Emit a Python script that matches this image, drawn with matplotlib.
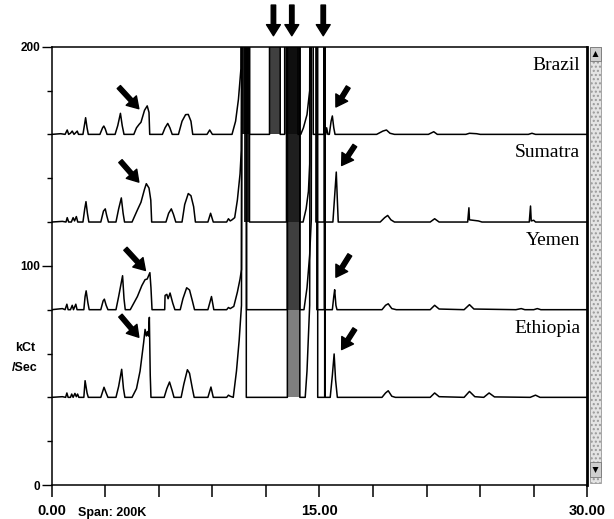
import matplotlib
matplotlib.use("Agg")
import matplotlib.pyplot as plt
from matplotlib.patches import Rectangle, Polygon
import numpy as np

plt.rcParams['font.family'] = ['Liberation Sans', 'DejaVu Sans']

OFF = 320  # detector saturated (off scale)

samples = ['Brazil', 'Sumatra', 'Yemen', 'Ethiopia']
offsets = [160, 120, 80, 40]

brazil_t = [0.0, 0.5, 0.75, 0.87, 0.95, 1.05, 1.15, 1.25, 1.35, 1.43, 1.5, 1.75, 1.85, 1.9, 1.98, 2.05,
            2.7, 2.85, 2.92, 3.0, 3.1, 3.55, 3.7, 3.85, 3.95, 4.05, 4.6, 4.75, 4.9, 5.0, 5.2, 5.35, 5.45, 5.49,
            6.2, 6.35, 6.5, 6.62, 6.75, 7.1, 7.3, 7.5, 7.65, 7.8, 7.9, 8.7, 8.85, 9.0, 10.1, 10.3, 10.46, 10.6,
            10.63, 11.08, 11.08, 12.2, 12.2, 12.8, 12.8, 13.05, 13.05, 13.8, 13.8, 13.95, 14.1, 14.3, 14.45,
            14.54, 14.65, 14.65, 15.25, 15.26, 15.28, 15.35, 15.4, 15.47, 15.55, 15.65, 15.72, 15.8, 15.87,
            18.2, 18.55, 18.75, 18.95, 19.2, 21.1, 21.4, 21.6, 23.2, 23.4, 23.8, 24.0, 26.7, 26.9, 27.1, 30.0]
brazil_v = [0, 0.3, 0, 2.0, 0, 0.5, 1.5, 0, 0.8, 1.5, 0, 0, 5, 7.6, 3, 0,
            0, 3, 3.8, 2.5, 0, 0, 4, 9.6, 4, 0, 0, 3, 4.6, 5.5, 11, 13, 10, 0,
            0, 3, 5, 3, 0, 0, 6, 9, 9.1, 6, 0, 0, 2, 0, 0, 6, 16, 30,
            OFF, OFF, 0, 0, OFF, OFF, 0, 0, OFF, OFF, 0, 0, 3, 9, 20,
            OFF, OFF, 0, 0, OFF, 0, 0, 3, 0, 0, 6, 8.4, 3, 0,
            0, 1.5, 2, 0.5, 0, 0, 1.2, 0, 0, 0.5, 0.3, 0, 0, 0.5, 0, 0]

sumatra_t = [0.0, 0.6, 0.8, 0.87, 0.95, 1.1, 1.2, 1.28, 1.38, 1.46, 1.75, 1.85, 1.92, 2.0, 2.08,
             2.75, 2.9, 3.0, 3.08, 3.18, 3.6, 3.75, 3.9, 4.0, 4.08, 4.5, 4.8, 5.0, 5.2, 5.3, 5.45, 5.55, 5.6,
             6.4, 6.55, 6.7, 6.82, 6.95, 7.3, 7.45, 7.65, 7.8, 7.95, 8.05, 8.75, 8.9, 9.05, 9.8, 9.9, 10.0,
             10.1, 10.25, 10.4, 10.55, 10.62, 10.7, 11.08, 11.08, 13.15, 13.15, 13.9, 13.9, 14.08, 14.25,
             14.38, 14.45, 14.52, 14.8, 14.8, 15.27, 15.28, 15.3, 15.75, 15.85, 15.94, 16.0, 16.05,
             18.4, 18.65, 18.82, 19.0, 19.2, 21.2, 21.45, 21.7, 23.3, 23.37, 23.4, 23.6, 23.9, 24.1,
             26.75, 26.82, 26.86, 27.0, 27.1, 30.0]
sumatra_v = [0, 0.3, 0, 2, 0, 0, 2, 0.5, 2.5, 0, 0, 6, 9.3, 4, 0,
             0, 5, 6, 3, 0, 0, 6, 11, 4, 0, 0, 5.5, 9, 15, 17.5, 15.5, 10, 0,
             0, 4, 6, 3.5, 0, 0, 8, 13, 12, 7, 0, 0, 4, 0, 0, 1.5, 0.5,
             1, 2, 10, 22, 32.7, OFF, OFF, 0, 0, OFF, OFF, 0, 0, 6,
             14, 26.5, OFF, OFF, 0, 0, OFF, 0, 0, 12, 22.8, 10, 0,
             0, 2, 3, 1, 0, 0, 1.5, 0, 0, 6.5, 1, 0.8, 0.5, 0,
             0, 7.3, 0.5, 0.8, 0, 0]

yemen_t = [0.0, 0.6, 0.75, 0.85, 0.92, 1.05, 1.15, 1.22, 1.35, 1.42, 1.8, 1.87, 1.93, 2.03, 2.1,
           2.75, 2.88, 2.95, 3.05, 3.15, 3.6, 3.75, 3.97, 4.05, 4.12, 4.4, 4.8, 5.05, 5.23, 5.35, 5.5, 5.56, 5.62,
           6.33, 6.35, 6.45, 6.52, 6.63, 6.78, 6.9, 7.2, 7.35, 7.56, 7.72, 7.88, 8.0, 8.75, 8.95, 9.08,
           9.8, 9.9, 10.0, 10.2, 10.4, 10.55, 10.63, 10.67, 10.92, 10.92, 13.2, 13.2, 13.9, 13.9, 14.13,
           14.3, 14.45, 14.54, 14.58, 14.85, 14.85, 15.27, 15.28, 15.3, 15.72, 15.8, 15.85, 15.92, 15.98,
           18.5, 18.7, 18.85, 19.05, 19.3, 21.2, 21.45, 21.7, 23.1, 23.4, 23.65, 26.0, 26.3, 26.5,
           27.0, 27.2, 27.4, 30.0]
yemen_v = [0, 0.5, 0, 2.5, 0, 0, 2, 0, 2.5, 0, 0, 6, 8.6, 3, 0,
           0, 4, 4.8, 2, 0, 0, 6, 15.5, 5, 0, 0, 6, 11, 13.7, 14, 16.9, 10, 0,
           0, 6.5, 7, 5, 7.6, 3, 0, 0, 5, 10, 9, 4, 0, 0, 6, 0,
           0, 1, 0.5, 1.5, 8, 14, 18.3, OFF, OFF, 0, 0, OFF, OFF, 0, 0,
           10, 25, 41, OFF, OFF, 0, 0, OFF, 0, 0, 6, 9.1, 2, 0,
           0, 2, 2.7, 0.5, 0, 0, 2, 0.3, 0, 2.3, 0.3, 0, 0.5, 0,
           0, 0.5, 0, 0]

ethiopia_t = [0.0, 0.6, 0.78, 0.85, 0.92, 1.05, 1.12, 1.2, 1.3, 1.38, 1.45, 1.52, 1.8, 1.87, 1.98, 2.05,
              2.75, 2.93, 3.05, 3.15, 3.6, 3.75, 3.92, 4.02, 4.1, 4.5, 4.75, 4.95, 5.15, 5.23, 5.3, 5.36,
              5.42, 5.47, 5.52, 5.56, 6.3, 6.45, 6.6, 6.75, 6.85, 7.25, 7.4, 7.6, 7.72, 7.88, 7.98,
              8.75, 8.92, 9.05, 9.8, 9.9, 10.0, 10.17, 10.35, 10.5, 10.63, 10.68, 10.9, 10.9, 13.2, 13.2,
              13.9, 13.9, 14.2, 14.3, 14.45, 14.5, 14.9, 14.9, 15.29, 15.3, 15.31, 15.6, 15.72, 15.82, 15.9,
              16.0, 18.5, 18.7, 18.85, 19.05, 19.25, 21.2, 21.45, 21.7, 23.1, 23.4, 23.7, 24.2, 24.5, 24.8,
              26.8, 27.1, 27.35, 30.0]
ethiopia_v = [0, 0.3, 0, 2, 0, 0, 1.5, 0, 1.8, 0.3, 1.5, 0, 0, 7.6, 2, 0,
              0, 4.6, 2, 0, 0, 5, 12.8, 4, 0, 0, 4, 12, 25, 31, 28, 30,
              28, 36.5, 10, 0, 0, 4, 7, 3, 0, 0, 6, 12.6, 11, 4, 0,
              0, 4.7, 0, 0, 1, 0.5, 0, 12, 26, 42, OFF, OFF, 0, 0, OFF,
              OFF, 0, 0, 12, 42, OFF, OFF, 0, 0, OFF, 0, 0, 10, 19.8, 8,
              0, 0, 2, 3, 0.5, 0, 0, 2, 0.3, 0, 2.7, 0.3, 0, 2, 0.2,
              0, 1, 0, 0]

# saturated stretches (start, end, darkness of the overdrawn trace)
brazil_sat = [(10.63, 11.08, 0.9), (12.2, 12.8, 0.75), (13.05, 13.8, 0.5)]
sumatra_sat = [(10.75, 11.08, 0.85), (13.15, 13.9, 0.5)]
yemen_sat = [(13.2, 13.9, 0.5)]
ethiopia_sat = [(13.2, 13.9, 0.5)]

traces_t = [brazil_t, sumatra_t, yemen_t, ethiopia_t]
traces_v = [brazil_v, sumatra_v, yemen_v, ethiopia_v]
sats = [brazil_sat, sumatra_sat, yemen_sat, ethiopia_sat]

# arrows: (tail x, tail y, tip x, tip y) in data units
arrows = [(3.76, 181.6, 4.88, 171.7), (3.85, 147.8, 4.88, 138.2), (4.13, 107.8, 5.25, 97.9),
          (3.85, 77.3, 4.88, 67.4),
          (16.61, 181.6, 15.92, 172.5), (16.98, 154.9, 16.24, 145.8), (16.7, 105.0, 15.92, 94.8),
          (16.98, 71.2, 16.24, 61.8),
          (12.42, 219.0, 12.42, 205.0), (13.45, 219.0, 13.45, 205.0), (15.21, 219.0, 15.21, 205.0)]

fig = plt.figure(figsize=(6.14, 5.19), dpi=100)
ax = fig.add_axes([0.0842, 0.0655, 0.8723, 0.8445])
ax.set_xlim(0, 30)
ax.set_ylim(0, 200)

for name, off, t, v, sat in zip(samples, offsets, traces_t, traces_v, sats):
    for a, b, d in sat:
        ax.fill_between([a, b], off, 200, color='black', alpha=d, lw=0)
    ax.plot(t, np.array(v) + off, color='black', lw=1.1)
    ax.text(29.6, off + 29.5, name, ha='right', va='baseline',
            family=['Liberation Serif', 'DejaVu Serif'], fontsize=14)

for x0, y0, x1, y1 in arrows:
    ax.annotate('', xy=(x1, y1), xytext=(x0, y0), annotation_clip=False,
                arrowprops=dict(facecolor='black', edgecolor='black', width=3.2,
                                headwidth=10, headlength=8, shrink=0))

# axes styling
for s in ['left', 'bottom', 'top']:
    ax.spines[s].set_linewidth(1.1)
ax.spines['right'].set_linewidth(2.0)

ax.set_xticks(np.arange(0, 31, 3))
ax.set_xticklabels(['0.00', '', '', '', '', '15.00', '', '', '', '', '30.00'])
ax.tick_params(axis='x', direction='out', length=8.6, width=1.1, pad=5,
               labelsize=10.5)
for lab in ax.get_xticklabels():
    lab.set_fontweight('bold')

ax.set_yticks([0, 100, 200])
ax.set_yticklabels(['0', '100', '200'])
ax.set_yticks(np.arange(20, 200, 20), minor=True)
ax.tick_params(axis='y', which='major', direction='out', length=7.5, width=1.0, pad=1,
               labelsize=8.5)
ax.tick_params(axis='y', which='minor', direction='out', length=3.6, width=1.0)
for lab in ax.get_yticklabels():
    lab.set_fontweight('bold')

fig.text(78 / 614, 1 - 516 / 519, 'Span: 200K', fontsize=9, fontweight='bold',
         ha='left', va='baseline')
fig.text(25 / 614, 1 - 348 / 519, 'kCt', fontsize=9, fontweight='bold', ha='center', va='center')
fig.text(25 / 614, 1 - 368 / 519, '/Sec', fontsize=9, fontweight='bold', ha='center', va='center')

# scroll bar
W, H = 614.0, 519.0
def frect(x, y, w, h, **kw):
    r = Rectangle((x / W, 1 - (y + h) / H), w / W, h / H, transform=fig.transFigure, **kw)
    fig.patches.append(r)

frect(590, 47, 11, 436, facecolor='#e4e4e4', edgecolor='#9a9a9a', lw=0.6, hatch='....')
frect(590, 47, 11, 14, facecolor='#cfcfcf', edgecolor='#777777', lw=0.6)
frect(590, 462, 11, 15, facecolor='#cfcfcf', edgecolor='#777777', lw=0.6)
fig.patches.append(Polygon([(592.5 / W, 1 - 57 / H), (598.5 / W, 1 - 57 / H), (595.5 / W, 1 - 51 / H)],
                           closed=True, transform=fig.transFigure, facecolor='black', lw=0))
fig.patches.append(Polygon([(592.5 / W, 1 - 467 / H), (598.5 / W, 1 - 467 / H), (595.5 / W, 1 - 473 / H)],
                           closed=True, transform=fig.transFigure, facecolor='black', lw=0))

fig.savefig('out.png', dpi=100)
